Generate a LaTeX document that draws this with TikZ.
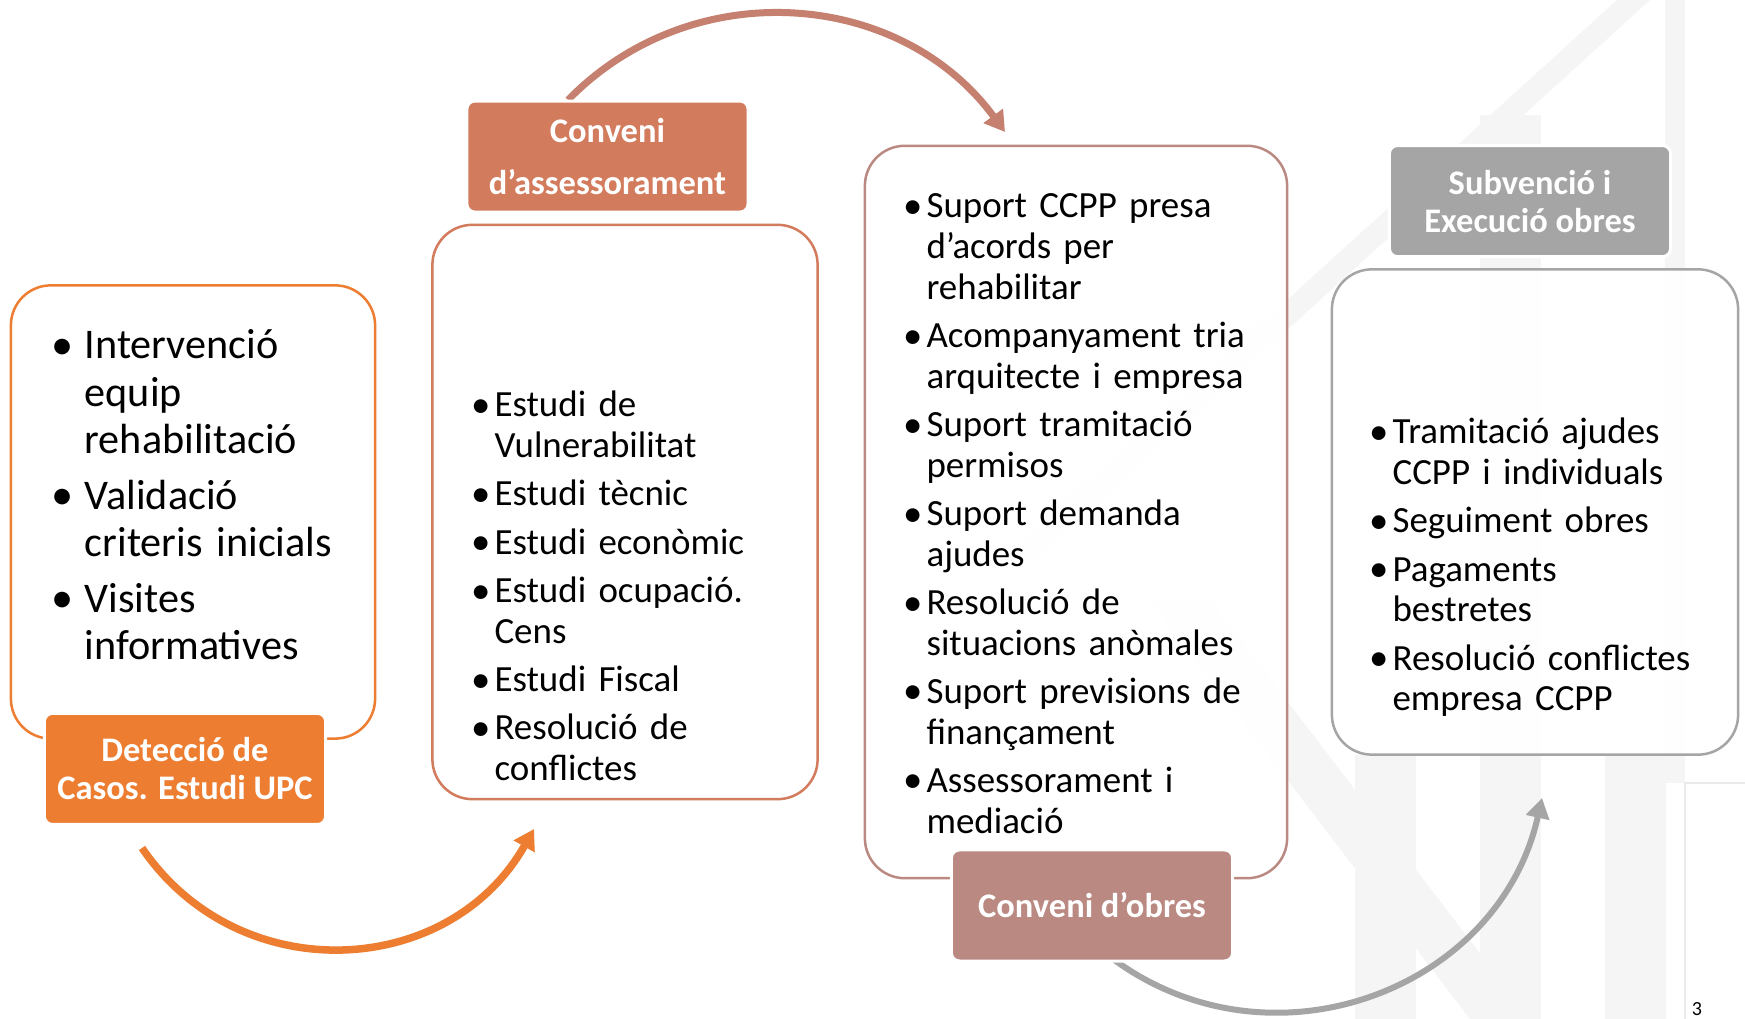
\documentclass[tikz,border=0pt]{standalone}
\usepackage{fontspec}
\usepackage{graphicx}
\setmainfont{Carlito}
\usetikzlibrary{arrows.meta,positioning}
\definecolor{DetOrange}{HTML}{ED7D31}
\definecolor{AssCoral}{HTML}{D27B5D}
\definecolor{AssArrow}{HTML}{C5806F}
\definecolor{ObrRose}{HTML}{B98982}
\definecolor{SubGrey}{HTML}{A5A5A5}
\definecolor{MarkGrey}{HTML}{F5F5F5}
\newcommand{\listfont}{\fontsize{10.5}{11.55}\selectfont}
\newcommand{\bigfont}{\fontsize{12}{13.45}\selectfont}
\newcommand{\tagfont}{\bfseries\fontsize{9.8}{10.8}\selectfont}
\newcommand{\itm}[2][6.5pt]{\noindent\hangindent=#1\hangafter=1%
  \makebox[#1][l]{\raisebox{-0.15pt}{\scalebox{1.05}{\textbullet}}}#2\par}

\begin{document}
\begin{tikzpicture}[x=0.01cm, y=-0.01cm,
  box/.style={rectangle, rounded corners=0.4cm, fill=white, fill opacity=0.9, line width=0.025cm, inner sep=0pt},
  tag/.style={rectangle, rounded corners=0.08cm, draw=white, line width=0.03cm, text=white, font=\tagfont,
    minimum width=2.81cm, minimum height=1.11cm, align=center, inner sep=0pt},
  items/.style={anchor=base west, inner sep=0pt, text width=4.5cm, align=left, font=\listfont\setlength{\parskip}{2.2pt}},
  arrow/.style={line width=0.075cm, -{Triangle[length=0.2cm, width=0.23cm]}},
  wmark/.style={fill=MarkGrey}
]
\useasboundingbox (0,0) rectangle (1745,1019);
\fill[white] (0,0) rectangle (1745,1019);

% background marks
\fill[wmark] (1001,560) -- (1617,0) -- (1650,0) -- (1034,560) -- cycle;
\fill[wmark] (1150,600) -- (1470,1019) -- (1530,1019) -- (1210,600) -- cycle;
\fill[wmark] (1355,755) rectangle (1416,1019);
\fill[wmark] (1480,115) rectangle (1541,1019);
\fill[wmark] (1605,755) rectangle (1666,1019);
\fill[wmark] (1665,0) rectangle (1685,783);
\draw[black!8] (1745,783) -- (1685,783) -- (1685,1019);

% arrows
\coordinate (a1s) at (142,848);
\coordinate (a1e) at (534,829);
\coordinate (a2s) at (568,100);
\coordinate (a2e) at (1005,132);
\coordinate (a3s) at (1113,959);
\coordinate (a3e) at (1542,798);
\draw[arrow, DetOrange] (a1s) .. controls (239,990) and (449,979) .. (a1e);
\draw[arrow, AssArrow, line width=0.07cm] (a2s) .. controls (692,-27) and (900,-11) .. (a2e);
\draw[arrow, SubGrey, line width=0.06cm] (a3s) .. controls (1272,1076) and (1499,990) .. (a3e);

% boxes
\node (b1) [box, draw=DetOrange, minimum width=3.64cm, minimum height=4.53cm] at (193,512) {};
\node (b2) [box, draw=AssCoral, minimum width=3.85cm, minimum height=5.74cm] at (625,512) {};
\node (b3) [box, draw=ObrRose, minimum width=4.22cm, minimum height=7.32cm] at (1076,512) {};
\node (b4) [box, draw=SubGrey, minimum width=4.06cm, minimum height=4.85cm] at (1535,512) {};

\node (l1) [tag, fill=DetOrange, below=-0.28cm of b1.south, xshift=-0.08cm] {Detecció de\\Casos. Estudi UPC};
\node (l2) [tag, fill=AssCoral, above=0.1cm of b2.north, xshift=-0.175cm] {Conveni\\[4pt]d’assessorament};
\node (l3) [tag, fill=ObrRose, below=-0.31cm of b3.south, xshift=0.16cm] {Conveni d’obres};
\node (l4) [tag, fill=SubGrey, above=0.1cm of b4.north, xshift=-0.05cm] {Subvenció i\\Execució obres};

\node (t1) [items, font=\bigfont\setlength{\parskip}{2.4pt}] at (51,359) {%
  \itm[9.4pt]{Intervenció\newline equip\newline rehabilitació}
  \itm[9.4pt]{Validació\newline criteris inicials}
  \itm[9.4pt]{Visites\newline informatives}};
\node (t2) [items] at (471,417) {%
  \itm{Estudi de\newline Vulnerabilitat}
  \itm{Estudi tècnic}
  \itm{Estudi econòmic}
  \itm{Estudi ocupació.\newline Cens}
  \itm{Estudi Fiscal}
  \itm{Resolució de\newline conflictes}};
\node (t3) [items] at (903,218) {%
  \itm{Suport CCPP presa\newline d’acords per\newline rehabilitar}
  \itm{Acompanyament tria\newline arquitecte i empresa}
  \itm{Suport tramitació\newline permisos}
  \itm{Suport demanda\newline ajudes}
  \itm{Resolució de\newline situacions anòmales}
  \itm{Suport previsions de\newline finançament}
  \itm{Assessorament i\newline mediació}};
\node (t4) [items] at (1369,444) {%
  \itm{Tramitació ajudes\newline CCPP i individuals}
  \itm{Seguiment obres}
  \itm{Pagaments\newline bestretes}
  \itm{Resolució conflictes\newline empresa CCPP}};

\node (pg) at (1697,1009) {\fontsize{5.7}{6}\selectfont 3};
\end{tikzpicture}
\end{document}
